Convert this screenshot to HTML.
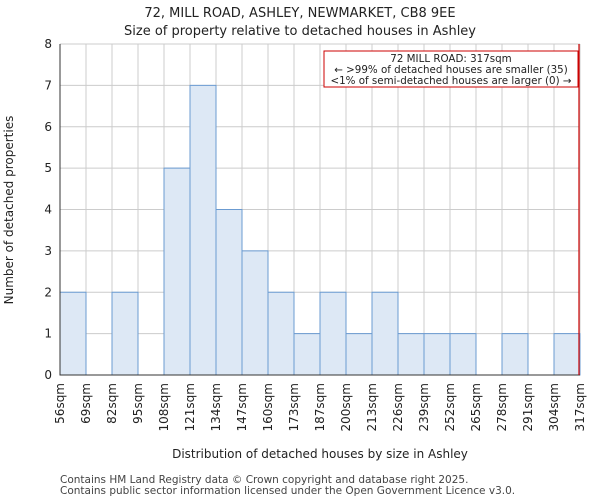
<!DOCTYPE html>
<html><head><meta charset="utf-8"><style>
body{margin:0;background:#fff;font-family:"DejaVu Sans","Liberation Sans",sans-serif}
svg text{font-family:"DejaVu Sans","Liberation Sans",sans-serif;fill:#222}
</style></head><body>
<svg id="chart" width="600" height="500" xmlns="http://www.w3.org/2000/svg">
<text x="300" y="17" text-anchor="middle" font-size="13">72, MILL ROAD, ASHLEY, NEWMARKET, CB8 9EE</text>
<text x="300" y="35" text-anchor="middle" font-size="13">Size of property relative to detached houses in Ashley</text>
<g id="grid"></g>
<g id="bars"></g>
<g id="axes"></g>
<text transform="translate(13,210) rotate(-90)" text-anchor="middle" font-size="12">Number of detached properties</text>
<text x="320" y="458" text-anchor="middle" font-size="12">Distribution of detached houses by size in Ashley</text>
<text x="60" y="483" font-size="10.5" style="fill:#444">Contains HM Land Registry data © Crown copyright and database right 2025.</text>
<text x="60" y="494" font-size="10.5" style="fill:#444">Contains public sector information licensed under the Open Government Licence v3.0.</text>
<rect x="324" y="51" width="254" height="36" fill="#fff" stroke="#c00" stroke-width="1"/>
<text x="451" y="62" text-anchor="middle" font-size="10.3">72 MILL ROAD: 317sqm</text>
<text x="451" y="73" text-anchor="middle" font-size="10.3">← &gt;99% of detached houses are smaller (35)</text>
<text x="451" y="84" text-anchor="middle" font-size="10.3">&lt;1% of semi-detached houses are larger (0) →</text>
</svg>
<script>
const tickLabels=["56sqm","69sqm","82sqm","95sqm","108sqm","121sqm","134sqm","147sqm","160sqm","173sqm","187sqm","200sqm","213sqm","226sqm","239sqm","252sqm","265sqm","278sqm","291sqm","304sqm","317sqm"];
const counts=[2,0,2,0,5,7,4,3,2,1,2,1,2,1,1,1,0,1,0,1];
const yTicks=[0,1,2,3,4,5,6,7,8];
const markerBin=20;
const NS="http://www.w3.org/2000/svg";
const x0=60,x1=580,y0=375,y1=44,yMax=8;
const bw=(x1-x0)/counts.length;
const xs=i=>x0+i*bw;
const ys=v=>y0-(v/yMax)*(y0-y1);
function mk(tag,attrs,parent){const e=document.createElementNS(NS,tag);for(const k in attrs)e.setAttribute(k,attrs[k]);document.getElementById(parent).appendChild(e);return e;}
yTicks.forEach(t=>{const l=mk('line',{x1:x0,x2:x1,y1:ys(t),y2:ys(t),stroke:'#ccc'},'grid');


const tx=mk('text',{x:x0-8,y:ys(t)+4,'text-anchor':'end','font-size':12},'axes');tx.textContent=t;

});
tickLabels.forEach((lab,i)=>{const l=mk('line',{x1:xs(i),x2:xs(i),y1:y1,y2:y0,stroke:'#ccc'},'grid');


const tx=mk('text',{transform:`translate(${xs(i)+4},${y0+8}) rotate(-90)`,'text-anchor':'end','font-size':12},'axes');tx.textContent=lab;

});
counts.forEach((c,i)=>{if(!c)return;const r=mk('rect',{x:xs(i),y:ys(c),width:bw,height:y0-ys(c),fill:'#dde8f5',stroke:'#6b9bd1','stroke-width':1},'bars');

});
const ax=mk('path',{d:`M${x0},${y1}V${y0}H${x1}`,fill:'none',stroke:'#333'},'axes');


const m=mk('line',{x1:xs(markerBin)-1,x2:xs(markerBin)-1,y1:y1,y2:y0,stroke:'#c00','stroke-width':1.2},'axes');


</script>
</body></html>
